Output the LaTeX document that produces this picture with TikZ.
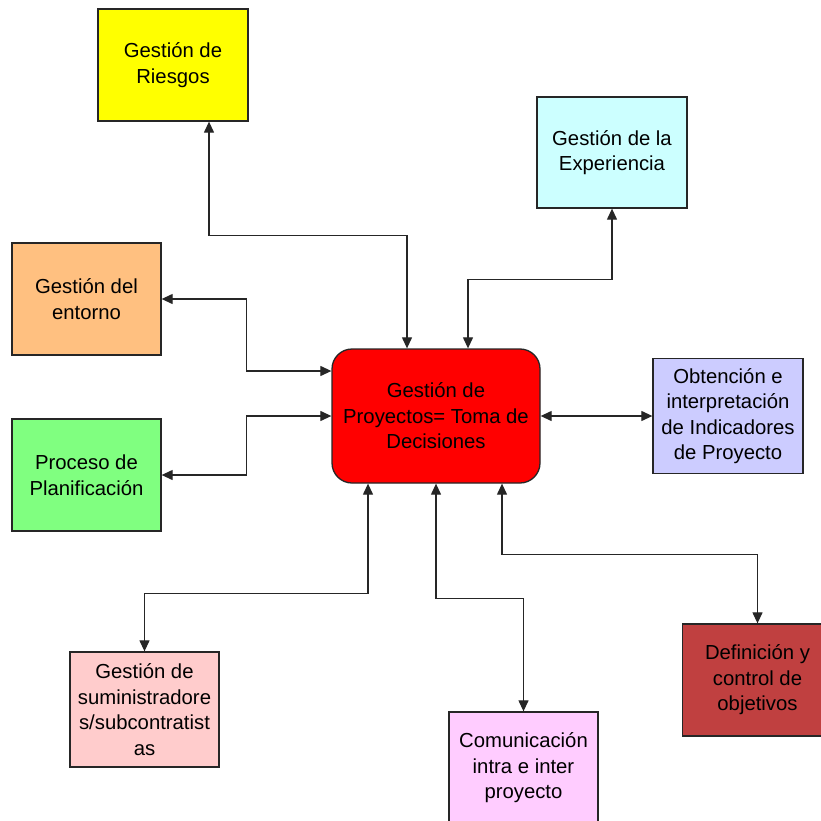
\documentclass[tikz,border=0pt]{standalone}
\usepackage{fontspec}
\setmainfont{Liberation Sans}
\usetikzlibrary{arrows.meta}
\definecolor{cYel}{HTML}{FFFF00}
\definecolor{cCya}{HTML}{CCFFFF}
\definecolor{cOra}{HTML}{FFC080}
\definecolor{cGre}{HTML}{80FF80}
\definecolor{cRed}{HTML}{FF0000}
\definecolor{cLav}{HTML}{CCCCFF}
\definecolor{cPin}{HTML}{FFCCCC}
\definecolor{cMag}{HTML}{FFCCFF}
\definecolor{cDrd}{HTML}{C04040}
\begin{document}
\begin{tikzpicture}[x=1pt,y=-1pt,
  box/.style={draw=black!85,line width=1.3pt,minimum width=150pt,minimum height=112pt,
    align=center,inner sep=0pt,font=\fontsize{20.3}{25.5}\selectfont},
  link/.style={line width=1.2pt,black!85,{Triangle[length=11pt,width=10pt]}-{Triangle[length=11pt,width=10pt]}}]
\useasboundingbox (0,0) rectangle (821,821);
\node[box,fill=cYel] (ries) at (173,65) {Gestión de\\Riesgos};
\node[box,fill=cCya,minimum height=111pt] (exp) at (612,152.5) {Gestión de la\\Experiencia};
\node[box,fill=cOra,minimum width=149pt] (ent) at (86.5,299) {Gestión del\\entorno};
\node[box,fill=cGre,minimum width=149pt] (plan) at (86.5,475) {Proceso de\\Planificación};
\node[box,fill=cRed,rounded corners=20pt,minimum width=208pt,minimum height=134pt] (cen) at (436,416) {Gestión de\\Proyectos= Toma de\\Decisiones};
\node[box,fill=cLav,minimum height=115pt] (ind) at (728,416) {Obtención e\\interpretación\\de Indicadores\\de Proyecto};
\node[box,fill=cPin,minimum width=149pt,minimum height=115pt] (sum) at (144.5,709.5) {Gestión de\\suministradore\\s/subcontratist\\as};
\node[box,fill=cMag,minimum width=149pt] (com) at (523.5,768) {Comunicación\\intra e inter\\proyecto};
\node[box,fill=cDrd] (def) at (757.5,680) {Definición y\\control de\\objetivos};
\draw[link] ([xshift=36pt]ries.south) -- ++(0,114) -| ([xshift=-29pt]cen.north);
\draw[link] (exp.south) -- ++(0,71) -| ([xshift=32pt]cen.north);
\draw[link] (ent.east) -- ++(85,0) |- ([yshift=45pt]cen.west);
\draw[link] (plan.east) -- ++(85,0) |- (cen.west);
\draw[link] (cen.east) -- (ind.west);
\draw[link] ([xshift=-68pt]cen.south) -- ++(0,110) -| (sum.north);
\draw[link] (cen.south) -- ++(0,115) -| (com.north);
\draw[link] ([xshift=66pt]cen.south) -- ++(0,71) -| (def.north);
\end{tikzpicture}
\end{document}
